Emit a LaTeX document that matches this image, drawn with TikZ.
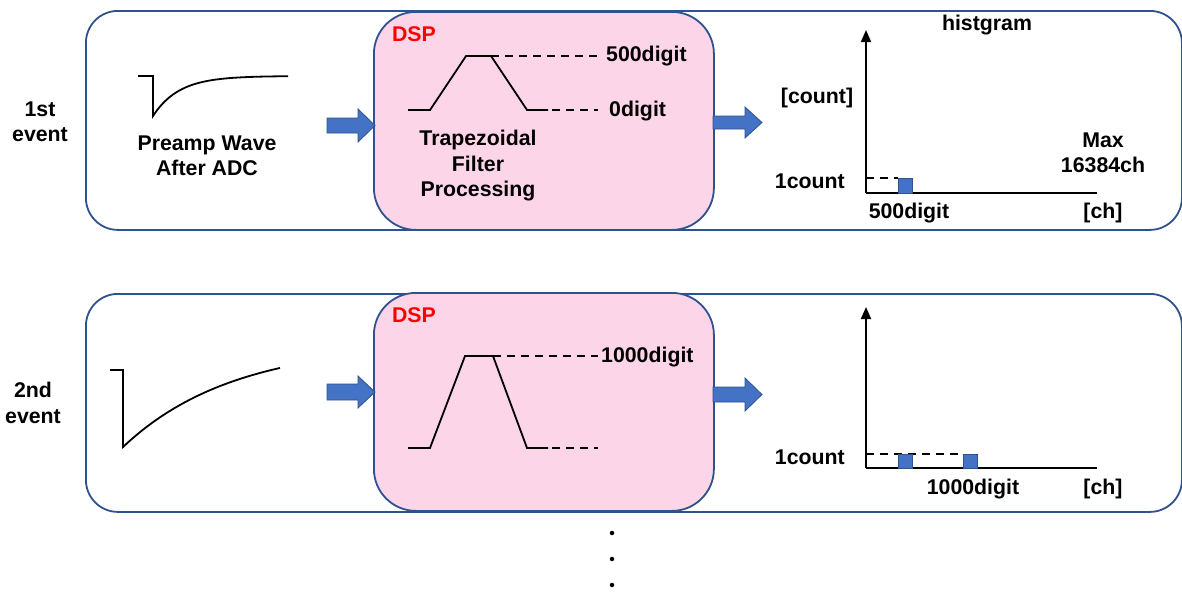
\documentclass[tikz,border=0pt]{standalone}
\usepackage{fontspec}
\setmainfont{Liberation Sans}
\usetikzlibrary{arrows.meta}
\definecolor{bdr}{HTML}{2F528F}
\definecolor{pinkf}{HTML}{FCD5E9}
\definecolor{arrf}{HTML}{4472C4}
\definecolor{dspred}{HTML}{FF0000}
\begin{document}
\begin{tikzpicture}[x=1pt,y=-1pt,
  every node/.style={font=\bfseries\fontsize{21.3}{25.5}\selectfont, inner sep=0pt, align=center},
  outerbox/.style={draw=bdr, line width=1.8pt, rounded corners=32pt, fill=white, anchor=north west},
  dspbox/.style={draw=bdr, line width=1.8pt, rounded corners=42pt, fill=pinkf, anchor=north west},
  wave/.style={line width=1.8pt, black, line join=miter},
  dashline/.style={line width=1.5pt, dash pattern=on 8pt off 6pt},
  blockarrow/.style={fill=arrf, draw=bdr, line width=0.8pt},
  bar/.style={fill=arrf, draw=bdr, line width=0.6pt},
  axis/.style={line width=1.8pt, -{Triangle[width=10pt,length=12pt]}},
  dot/.style={fill=black, circle, minimum size=4.5pt, inner sep=0pt}]
\useasboundingbox (0,0) rectangle (1182,592);

% ---------- row 1 ----------
\node[outerbox, minimum width=1096pt, minimum height=219pt] (ev1) at (85,10) {};
\node[dspbox, minimum width=340pt, minimum height=218pt] (dsp1) at (373,11) {};
\node (lab1) at (40,122) {1st\\event};

% preamp wave
\draw[wave] (138,76) -- (153,76) -- (153,116)
  -- plot[domain=0:135, samples=60] ({153+\x},{76+40*exp(-\x/26)});
\node (pre1) at (207,156) {Preamp Wave\\After ADC};

% arrow into DSP
\draw[blockarrow] (327,118) -- (358,118) -- (358,109) -- (375,125.5) -- (358,142) -- (358,133) -- (327,133) -- cycle;

\node[text=dspred] (dsplab1) at (414,34) {DSP};
\draw[wave] (408,110) -- (430,110) -- (466,56) -- (491,56) -- (527,110) -- (548,110);
\draw[dashline] (491,56) -- (598,56);
\draw[dashline] (552,110) -- (598,110);
\node[anchor=west] (d500) at (606,56) {500digit};
\node[anchor=west] (d0) at (609,111) {0digit};
\node (trap) at (478,166) {Trapezoidal\\Filter\\Processing};

% arrow out of DSP
\draw[blockarrow] (713,116) -- (745,116) -- (745,107) -- (762,122.5) -- (745,138) -- (745,129) -- (713,129) -- cycle;

% histogram 1
\coordinate (o1) at (866,193);
\draw[line width=1.8pt] (866,193) -- (1097,193);
\draw[axis] (866,193) -- (866,30);
\draw[dashline] (866,178) -- (898,178);
\draw[bar] (898,178) rectangle (912,193);
\node (hist) at (987,25) {histgram};
\node (cnt) at (817,98) {[count]};
\node[anchor=east] (c1) at (845,181) {1count};
\node (mx) at (1103,153) {Max\\16384ch};
\node (h500) at (909,213) {500digit};
\node (ch1) at (1103,213) {[ch]};

% ---------- row 2 ----------
\node[outerbox, minimum width=1096pt, minimum height=218pt] (ev2) at (85,293) {};
\node[dspbox, minimum width=340pt, minimum height=218pt] (dsp2) at (373,292) {};
\node (lab2) at (33,403) {2nd\\event};

\draw[wave] (110,370) -- (123,370) -- (123,447)
  -- plot[domain=0:157, samples=60] ({123+\x},{343+104*exp(-\x/110)});

\draw[blockarrow] (327,384) -- (358,384) -- (358,376) -- (375,392) -- (358,408) -- (358,400) -- (327,400) -- cycle;

\node[text=dspred] (dsplab2) at (414,315) {DSP};
\draw[wave] (408,448) -- (430,448) -- (465,356) -- (493,356) -- (527,448) -- (548,448);
\draw[dashline] (493,356) -- (598,356);
\draw[dashline] (552,448) -- (598,448);
\node[anchor=west] (d1000) at (601,357) {1000digit};

\draw[blockarrow] (713,387) -- (745,387) -- (745,378) -- (762,394.5) -- (745,411) -- (745,402) -- (713,402) -- cycle;

% histogram 2
\draw[line width=1.8pt] (866,468) -- (1097,468);
\draw[axis] (866,468) -- (866,307);
\draw[dashline] (866,454) -- (963,454);
\draw[bar] (898,454) rectangle (912,468);
\draw[bar] (963,454) rectangle (977,468);
\node[anchor=east] (c2) at (845,457) {1count};
\node (h1000) at (973,489) {1000digit};
\node (ch2) at (1103,489) {[ch]};

% continuation dots
\node[dot] (dt1) at (612,533) {};
\node[dot] (dt2) at (612,559) {};
\node[dot] (dt3) at (612,585) {};
\end{tikzpicture}
\end{document}
